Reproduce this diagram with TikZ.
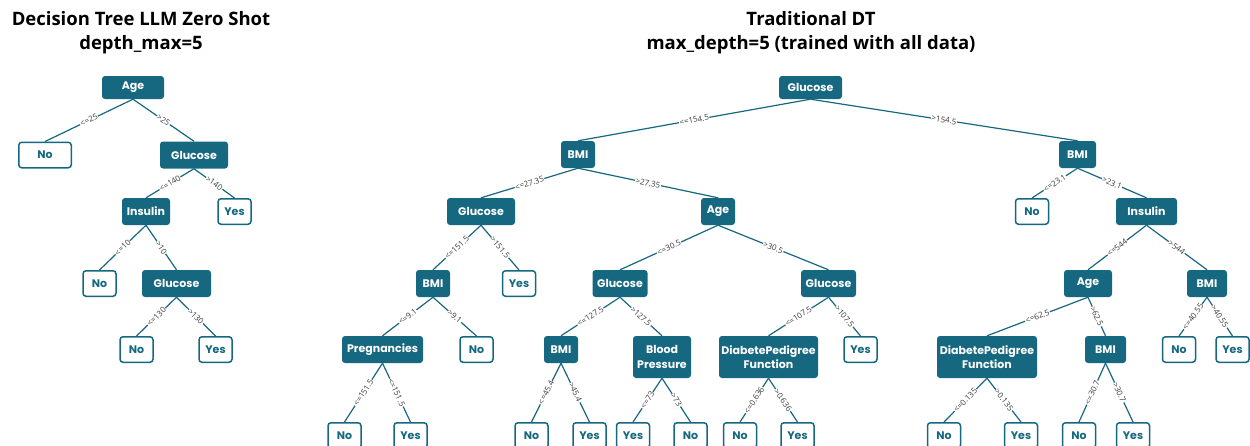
\documentclass[tikz,border=0pt]{standalone}
\usepackage{fontspec}
\newfontfamily\popfont{Poppins}
\newfontfamily\osfont{Open Sans}
\definecolor{tc}{HTML}{166880}
\definecolor{labc}{HTML}{3A3A3A}
\tikzset{
  dnode/.style={fill=tc, draw=none, rounded corners=3pt, text=white,
    font=\popfont\bfseries\fontsize{11}{14.3}\selectfont, inner sep=0pt,
    minimum height=27pt, align=center},
  leaf/.style={fill=white, draw=tc, line width=1.5pt, rounded corners=3pt, text=tc,
    font=\popfont\bfseries\fontsize{11}{14.3}\selectfont, inner sep=0pt,
    minimum height=25.5pt, minimum width=33pt, align=center},
  edge/.style={draw=tc, line width=1.2pt},
  elab/.style={fill=white, inner sep=0.6pt, text=labc, sloped, midway,
    font=\osfont\fontsize{8}{9}\selectfont},
  ttl/.style={font=\osfont\bfseries\fontsize{18.5}{23.5}\selectfont, align=center, text=black, inner sep=0pt}
}
\begin{document}
\begin{tikzpicture}[x=1pt,y=-1pt]
\useasboundingbox (0,0) rectangle (1250,445);
% titles
\node[ttl] (t1) at (141,32.5) {Decision Tree LLM Zero Shot\\depth\_max=5};
\node[ttl] (t2) at (811,32.5) {Traditional DT\\max\_depth=5 (trained with all data)};
% left tree
\node[dnode, minimum width=62pt, minimum height=23pt] (A1) at (133,87.5) {Age};
\node[leaf, minimum width=52.5pt] (A2) at (45,155) {No};
\node[dnode, minimum width=68pt] (A3) at (194,155) {Glucose};
\node[dnode, minimum width=48pt] (A4) at (146,211.5) {Insulin};
\node[leaf] (A5) at (234.5,211.5) {Yes};
\node[leaf] (A6) at (99.5,283.5) {No};
\node[dnode, minimum width=69pt] (A7) at (176.5,283.5) {Glucose};
\node[leaf] (A8) at (136.5,349.5) {No};
\node[leaf] (A9) at (215.5,349.5) {Yes};
\draw[edge] (A1.south) -- node[elab]{<=25} (A2.north);
\draw[edge] (A1.south) -- node[elab]{>25} (A3.north);
\draw[edge] (A3.south) -- node[elab]{<=140} (A4.north);
\draw[edge] (A3.south) -- node[elab]{>140} (A5.north);
\draw[edge] (A4.south) -- node[elab]{<=10} (A6.north);
\draw[edge] (A4.south) -- node[elab]{>10} (A7.north);
\draw[edge] (A7.south) -- node[elab]{<=130} (A8.north);
\draw[edge] (A7.south) -- node[elab]{>130} (A9.north);
% traditional tree
\node[dnode, minimum width=63pt, minimum height=23pt] (B1) at (810.5,87.5) {Glucose};
\node[dnode, minimum width=34pt] (B2) at (578,154.5) {BMI};
\node[dnode, minimum width=37pt] (B3) at (1077.5,154.5) {BMI};
\node[dnode, minimum width=68pt] (B4) at (481,211.5) {Glucose};
\node[dnode, minimum width=34pt] (B5) at (718,211.5) {Age};
\node[dnode, minimum width=34pt] (B6) at (433,283.5) {BMI};
\node[leaf] (B7) at (519,283.5) {Yes};
\node[dnode, minimum width=55pt] (B8) at (620,283.5) {Glucose};
\node[dnode, minimum width=55pt] (B9) at (828.5,283.5) {Glucose};
\node[dnode, minimum width=81pt] (B10) at (382.5,349.5) {Pregnancies};
\node[leaf] (B11) at (476.5,349.5) {No};
\node[dnode, minimum width=34pt] (B12) at (561,349.5) {BMI};
\node[dnode, minimum width=58pt, minimum height=42pt] (B13) at (662,357) {Blood\\Pressure};
\node[dnode, minimum width=99pt, minimum height=42pt] (B14) at (768.5,357) {DiabetePedigree\\Function};
\node[leaf] (B15) at (860.5,349.5) {Yes};
\node[leaf] (B16) at (344.5,435.5) {No};
\node[leaf] (B17) at (410.5,435.5) {Yes};
\node[leaf] (B18) at (531.5,435.5) {No};
\node[leaf] (B19) at (589.5,435.5) {Yes};
\node[leaf] (B20) at (633,435.5) {Yes};
\node[leaf] (B21) at (690.5,435.5) {No};
\node[leaf] (B22) at (740,435.5) {No};
\node[leaf] (B23) at (797.5,435.5) {Yes};
\draw[edge] (B1.south) -- node[elab]{<=154.5} (B2.north);
\draw[edge] (B1.south) -- node[elab]{>154.5} (B3.north);
\draw[edge] (B2.south) -- node[elab]{<=27.35} (B4.north);
\draw[edge] (B2.south) -- node[elab]{>27.35} (B5.north);
\draw[edge] (B4.south) -- node[elab]{<=151.5} (B6.north);
\draw[edge] (B4.south) -- node[elab]{>151.5} (B7.north);
\draw[edge] (B5.south) -- node[elab]{<=30.5} (B8.north);
\draw[edge] (B5.south) -- node[elab]{>30.5} (B9.north);
\draw[edge] (B6.south) -- node[elab]{<=9.1} (B10.north);
\draw[edge] (B6.south) -- node[elab]{>9.1} (B11.north);
\draw[edge] (B8.south) -- node[elab]{<=127.5} (B12.north);
\draw[edge] (B8.south) -- node[elab]{>127.5} (B13.north);
\draw[edge] (B9.south) -- node[elab]{<=107.5} (B14.north);
\draw[edge] (B9.south) -- node[elab]{>107.5} (B15.north);
\draw[edge] (B10.south) -- node[elab]{<=151.5} (B16.north);
\draw[edge] (B10.south) -- node[elab]{<=151.5} (B17.north);
\draw[edge] (B12.south) -- node[elab]{<=45.4} (B18.north);
\draw[edge] (B12.south) -- node[elab]{>45.4} (B19.north);
\draw[edge] (B13.south) -- node[elab]{<=73} (B20.north);
\draw[edge] (B13.south) -- node[elab]{>73} (B21.north);
\draw[edge] (B14.south) -- node[elab]{<=0.636} (B22.north);
\draw[edge] (B14.south) -- node[elab]{>0.636} (B23.north);
% right subtree
\node[leaf] (C1) at (1032,211.5) {No};
\node[dnode, minimum width=61pt] (C2) at (1146.5,211.5) {Insulin};
\node[dnode, minimum width=48pt] (C3) at (1088,283.5) {Age};
\node[dnode, minimum width=40pt] (C4) at (1207,283.5) {BMI};
\node[dnode, minimum width=100pt, minimum height=42pt] (C5) at (987,357) {DiabetePedigree\\Function};
\node[dnode, minimum width=41pt] (C6) at (1105.5,349.5) {BMI};
\node[leaf] (C7) at (1179,349.5) {No};
\node[leaf] (C8) at (1232.5,349.5) {Yes};
\node[leaf] (C9) at (944,435.5) {No};
\node[leaf] (C10) at (1021,435.5) {Yes};
\node[leaf] (C11) at (1079,435.5) {No};
\node[leaf] (C12) at (1133,435.5) {Yes};
\draw[edge] (B3.south) -- node[elab]{<=23.1} (C1.north);
\draw[edge] (B3.south) -- node[elab]{>23.1} (C2.north);
\draw[edge] (C2.south) -- node[elab]{<=544} (C3.north);
\draw[edge] (C2.south) -- node[elab]{>544} (C4.north);
\draw[edge] (C3.south) -- node[elab]{<=62.5} (C5.north);
\draw[edge] (C3.south) -- node[elab]{>62.5} (C6.north);
\draw[edge] (C4.south) -- node[elab]{<=40.55} (C7.north);
\draw[edge] (C4.south) -- node[elab]{>40.55} (C8.north);
\draw[edge] (C5.south) -- node[elab]{<=0.135} (C9.north);
\draw[edge] (C5.south) -- node[elab]{>0.135} (C10.north);
\draw[edge] (C6.south) -- node[elab]{<=30.7} (C11.north);
\draw[edge] (C6.south) -- node[elab]{>30.7} (C12.north);
\end{tikzpicture}
\end{document}
